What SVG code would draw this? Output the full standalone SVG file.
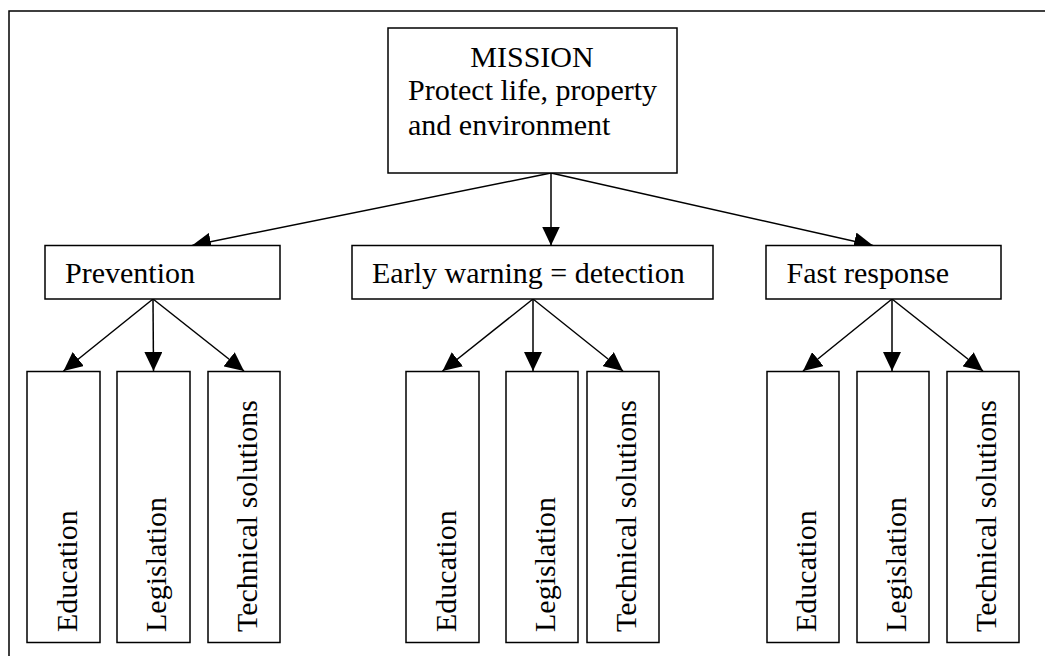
<svg xmlns="http://www.w3.org/2000/svg" width="1045" height="656" viewBox="0 0 1045 656">
<defs>
<style>
.box{fill:#fff;stroke:#000;stroke-width:1.5}
.t{font-family:"Liberation Serif","Times New Roman",serif;font-size:30px;fill:#000}
.c{stroke:#000;stroke-width:1.5;fill:none;marker-end:url(#ah)}
</style>
<marker id="ah" markerUnits="userSpaceOnUse" markerWidth="19" markerHeight="18" refX="19" refY="9" orient="auto" viewBox="0 0 19 18">
<path d="M0,0 L19,9 L0,18 z" fill="#000"/>
</marker>
</defs>
<rect width="1045" height="656" fill="#fff"/>
<path d="M9,656 V11 H1045" fill="none" stroke="#000" stroke-width="1.5"/>
<g id="connectors">
<line class="c" x1="551" y1="173" x2="192" y2="245.5"/>
<line class="c" x1="551" y1="173" x2="551" y2="245.5"/>
<line class="c" x1="551" y1="173" x2="873" y2="245.5"/>
<line class="c" x1="153" y1="299" x2="63.5" y2="371"/>
<line class="c" x1="153" y1="299" x2="153.5" y2="371"/>
<line class="c" x1="153" y1="299" x2="244" y2="371"/>
<line class="c" x1="533" y1="299" x2="442.5" y2="371"/>
<line class="c" x1="533" y1="299" x2="533" y2="371"/>
<line class="c" x1="533" y1="299" x2="623" y2="371"/>
<line class="c" x1="892" y1="299" x2="803" y2="371"/>
<line class="c" x1="892" y1="299" x2="892" y2="371"/>
<line class="c" x1="892" y1="299" x2="983" y2="371"/>
</g>
<g id="mission">
<rect class="box" x="388" y="28" width="289" height="145"/>
<text class="t" x="532" y="67" text-anchor="middle">MISSION</text>
<text class="t" x="408" y="100">Protect life, property</text>
<text class="t" x="408" y="135">and environment</text>
</g>
<g id="prevention">
<rect class="box" x="45" y="245.5" width="235" height="53.5"/>
<text class="t" x="65" y="283">Prevention</text>
</g>
<g id="early-warning">
<rect class="box" x="352" y="245.5" width="361" height="53.5"/>
<text class="t" x="372" y="283">Early warning = detection</text>
</g>
<g id="fast-response">
<rect class="box" x="766" y="245.5" width="235" height="53.5"/>
<text class="t" x="786.5" y="283">Fast response</text>
</g>
<g id="p-education">
<rect class="box" x="27" y="371.5" width="73" height="271"/>
<text class="t" transform="translate(77,632) rotate(-90)">Education</text>
</g>
<g id="p-legislation">
<rect class="box" x="117" y="371.5" width="73" height="271"/>
<text class="t" transform="translate(166,632) rotate(-90)">Legislation</text>
</g>
<g id="p-technical">
<rect class="box" x="208" y="371.5" width="72" height="271"/>
<text class="t" transform="translate(257,632) rotate(-90)">Technical solutions</text>
</g>
<g id="e-education">
<rect class="box" x="406" y="371.5" width="73" height="271"/>
<text class="t" transform="translate(455.5,632) rotate(-90)">Education</text>
</g>
<g id="e-legislation">
<rect class="box" x="506" y="371.5" width="72" height="271"/>
<text class="t" transform="translate(555,632) rotate(-90)">Legislation</text>
</g>
<g id="e-technical">
<rect class="box" x="587" y="371.5" width="72" height="271"/>
<text class="t" transform="translate(636,632) rotate(-90)">Technical solutions</text>
</g>
<g id="f-education">
<rect class="box" x="767" y="371.5" width="72" height="271"/>
<text class="t" transform="translate(816,632) rotate(-90)">Education</text>
</g>
<g id="f-legislation">
<rect class="box" x="857" y="371.5" width="72" height="271"/>
<text class="t" transform="translate(906,632) rotate(-90)">Legislation</text>
</g>
<g id="f-technical">
<rect class="box" x="947" y="371.5" width="72" height="271"/>
<text class="t" transform="translate(996,632) rotate(-90)">Technical solutions</text>
</g>
</svg>
